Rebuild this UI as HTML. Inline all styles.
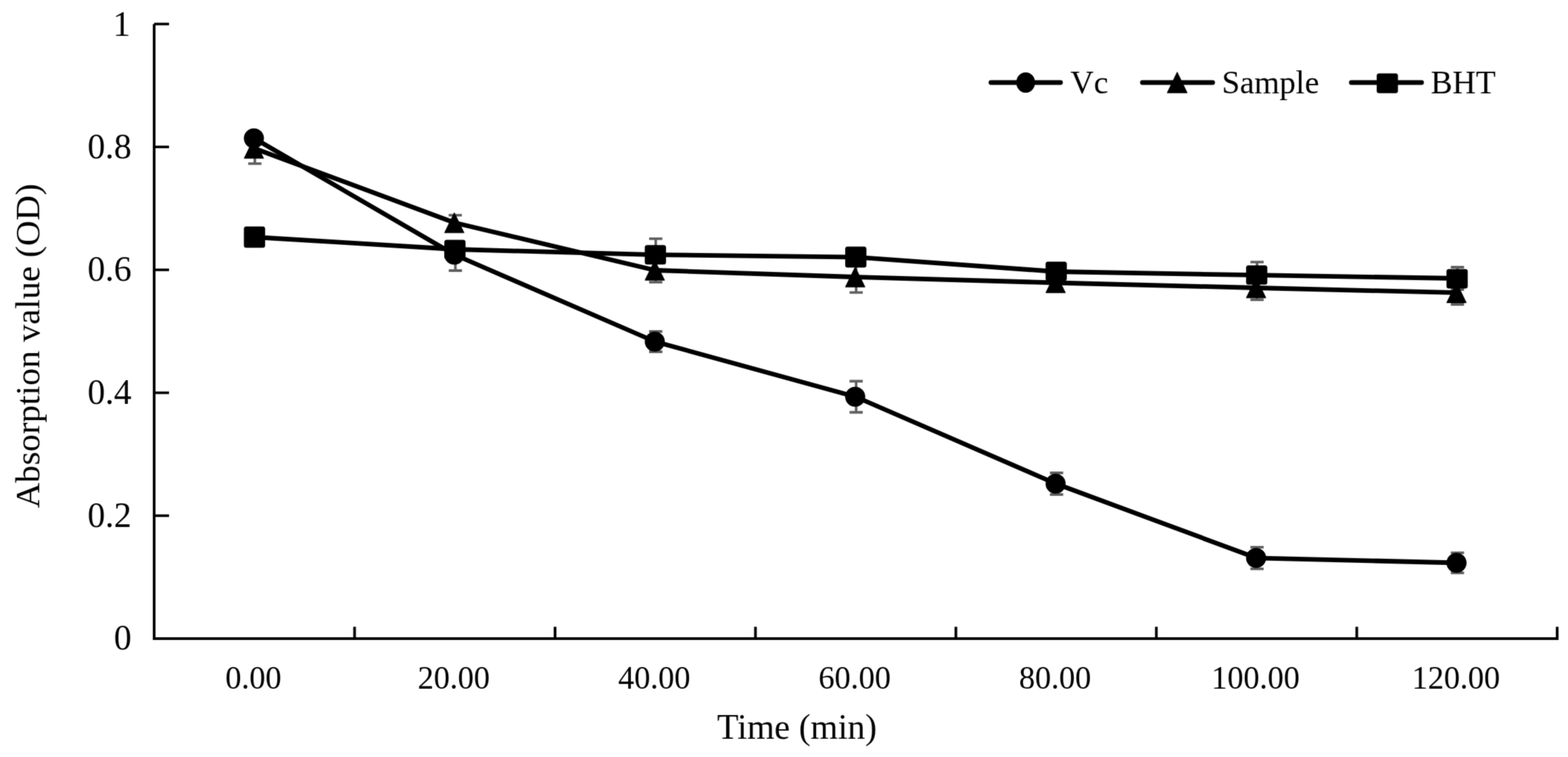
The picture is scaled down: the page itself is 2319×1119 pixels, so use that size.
<!DOCTYPE html>
<html><head><meta charset="utf-8"><title>Absorption value over time</title>
<style>
html,body{margin:0;padding:0;background:#fff;overflow:hidden;}
svg{display:block;}
text{font-family:"Liberation Serif","Times New Roman",serif;fill:#000;}
.yl{font-size:52px;}
.xl{font-size:47.5px;}
.lg{font-size:48px;}
.tt{font-size:52px;}
.ty{font-size:51.7px;}
</style></head>
<body>
<svg width="2319" height="1119" viewBox="0 0 2319 1119">
<defs><filter id="soft" x="0" y="0" width="2319" height="1119" filterUnits="userSpaceOnUse" color-interpolation-filters="sRGB"><feConvolveMatrix order="3" kernelMatrix="1 4 1 4 16 4 1 4 1" divisor="36" edgeMode="duplicate"/></filter></defs>
<rect width="2319" height="1119" fill="#fff"/>
<g filter="url(#soft)">
<rect width="2319" height="1119" fill="#fff"/>
<path d="M228 35.5V946M226 944H2305" stroke="#000" stroke-width="4" fill="none"/>
<text x="194.5" y="960.3" text-anchor="end" class="yl">0</text>
<path d="M228 762.3H250" stroke="#000" stroke-width="3.8"/>
<text x="194.5" y="778.6" text-anchor="end" class="yl">0.2</text>
<path d="M228 580.6H250" stroke="#000" stroke-width="3.8"/>
<text x="194.5" y="596.9" text-anchor="end" class="yl">0.4</text>
<path d="M228 398.9H250" stroke="#000" stroke-width="3.8"/>
<text x="194.5" y="415.2" text-anchor="end" class="yl">0.6</text>
<path d="M228 217.2H250" stroke="#000" stroke-width="3.8"/>
<text x="194.5" y="233.5" text-anchor="end" class="yl">0.8</text>
<path d="M228 35.5H250" stroke="#000" stroke-width="3.8"/>
<text x="193.0" y="52.8" text-anchor="end" class="yl">1</text>
<path d="M524.4 926.5V944" stroke="#000" stroke-width="4"/>
<path d="M820.9 926.5V944" stroke="#000" stroke-width="4"/>
<path d="M1117.3 926.5V944" stroke="#000" stroke-width="4"/>
<path d="M1413.7 926.5V944" stroke="#000" stroke-width="4"/>
<path d="M1710.2 926.5V944" stroke="#000" stroke-width="4"/>
<path d="M2006.6 926.5V944" stroke="#000" stroke-width="4"/>
<path d="M2303.0 926.5V944" stroke="#000" stroke-width="4"/>
<text x="374.7" y="1017.5" text-anchor="middle" class="xl">0.00</text>
<text x="671.1" y="1017.5" text-anchor="middle" class="xl">20.00</text>
<text x="967.6" y="1017.5" text-anchor="middle" class="xl">40.00</text>
<text x="1264.0" y="1017.5" text-anchor="middle" class="xl">60.00</text>
<text x="1560.4" y="1017.5" text-anchor="middle" class="xl">80.00</text>
<text x="1856.9" y="1017.5" text-anchor="middle" class="xl">100.00</text>
<text x="2153.3" y="1017.5" text-anchor="middle" class="xl">120.00</text>
<path d="M376.9 196.5V212.5M367.1 196.5h19.6M367.1 212.5h19.6" stroke="#606060" stroke-width="3.8" fill="none"/>
<path d="M673.5 358.0V400.0M663.7 358.0h19.6M663.7 400.0h19.6" stroke="#606060" stroke-width="3.8" fill="none"/>
<path d="M969.8 490.0V520.0M960.0 490.0h19.6M960.0 520.0h19.6" stroke="#606060" stroke-width="3.8" fill="none"/>
<path d="M1266.2 563.5V609.5M1256.4 563.5h19.6M1256.4 609.5h19.6" stroke="#606060" stroke-width="3.8" fill="none"/>
<path d="M1562.6 699.0V731.0M1552.8 699.0h19.6M1552.8 731.0h19.6" stroke="#606060" stroke-width="3.8" fill="none"/>
<path d="M1859.1 808.8V840.8M1849.3 808.8h19.6M1849.3 840.8h19.6" stroke="#606060" stroke-width="3.8" fill="none"/>
<path d="M2155.5 817.2V846.8M2145.7 817.2h19.6M2145.7 846.8h19.6" stroke="#606060" stroke-width="3.8" fill="none"/>
<path d="M376.9 196.7V241.9M367.1 196.7h19.6M367.1 241.9h19.6" stroke="#606060" stroke-width="3.8" fill="none"/>
<path d="M673.3 318.2V340.4M663.5 318.2h19.6M663.5 340.4h19.6" stroke="#606060" stroke-width="3.8" fill="none"/>
<path d="M969.8 381.8V417.2M960.0 381.8h19.6M960.0 417.2h19.6" stroke="#606060" stroke-width="3.8" fill="none"/>
<path d="M1266.2 386.6V432.4M1256.4 386.6h19.6M1256.4 432.4h19.6" stroke="#606060" stroke-width="3.8" fill="none"/>
<path d="M1562.6 406.0V430.0M1552.8 406.0h19.6M1552.8 430.0h19.6" stroke="#606060" stroke-width="3.8" fill="none"/>
<path d="M1859.1 407.8V443.2M1849.3 407.8h19.6M1849.3 443.2h19.6" stroke="#606060" stroke-width="3.8" fill="none"/>
<path d="M2155.5 415.4V450.0M2145.7 415.4h19.6M2145.7 450.0h19.6" stroke="#606060" stroke-width="3.8" fill="none"/>
<path d="M376.9 342.5V358.5M367.1 342.5h19.6M367.1 358.5h19.6" stroke="#606060" stroke-width="3.8" fill="none"/>
<path d="M673.3 360.5V376.5M663.5 360.5h19.6M663.5 376.5h19.6" stroke="#606060" stroke-width="3.8" fill="none"/>
<path d="M969.8 352.9V400.3M960.0 352.9h19.6M960.0 400.3h19.6" stroke="#606060" stroke-width="3.8" fill="none"/>
<path d="M1266.2 370.1V390.1M1256.4 370.1h19.6M1256.4 390.1h19.6" stroke="#606060" stroke-width="3.8" fill="none"/>
<path d="M1562.6 391.5V411.5M1552.8 391.5h19.6M1552.8 411.5h19.6" stroke="#606060" stroke-width="3.8" fill="none"/>
<path d="M1859.1 387.3V426.1M1849.3 387.3h19.6M1849.3 426.1h19.6" stroke="#606060" stroke-width="3.8" fill="none"/>
<path d="M2155.5 395.0V428.0M2145.7 395.0h19.6M2145.7 428.0h19.6" stroke="#606060" stroke-width="3.8" fill="none"/>
<polyline points="375.9,204.5 672.3,376.5 968.8,505.0 1265.2,586.5 1561.6,715.0 1858.1,824.8 2154.5,832.0" fill="none" stroke="#000" stroke-width="6.8" stroke-linejoin="round" stroke-linecap="round"/>
<polyline points="375.9,219.3 672.3,329.3 968.8,399.5 1265.2,409.5 1561.6,418.0 1858.1,425.5 2154.5,432.7" fill="none" stroke="#000" stroke-width="6.8" stroke-linejoin="round" stroke-linecap="round"/>
<polyline points="375.9,350.5 672.3,368.5 968.8,376.6 1265.2,380.1 1561.6,401.5 1858.1,406.7 2154.5,411.5" fill="none" stroke="#000" stroke-width="6.8" stroke-linejoin="round" stroke-linecap="round"/>
<g fill="#000">
<rect x="360.7" y="334.8" width="31.4" height="31.4" rx="3.5"/>
<rect x="657.1" y="354.4" width="31.4" height="28.8" rx="3.5"/>
<rect x="953.6" y="362.3" width="31.4" height="28.6" rx="3.5"/>
<rect x="1250.0" y="364.6" width="31.4" height="31.0" rx="3.5"/>
<rect x="1546.4" y="386.7" width="31.4" height="28.6" rx="3.5"/>
<rect x="1842.9" y="392.2" width="31.4" height="28.6" rx="3.5"/>
<rect x="2139.3" y="397.8" width="31.4" height="28.6" rx="3.5"/>
<polygon points="375.5,204.7 389.7,233.9 361.3,233.9" stroke="#000" stroke-width="1.2" stroke-linejoin="round"/>
<polygon points="671.9,314.7 686.1,343.9 657.7,343.9" stroke="#000" stroke-width="1.2" stroke-linejoin="round"/>
<polygon points="968.4,384.9 982.6,414.1 954.2,414.1" stroke="#000" stroke-width="1.2" stroke-linejoin="round"/>
<polygon points="1264.8,394.9 1279.0,424.1 1250.6,424.1" stroke="#000" stroke-width="1.2" stroke-linejoin="round"/>
<polygon points="1561.2,403.4 1575.4,432.6 1547.0,432.6" stroke="#000" stroke-width="1.2" stroke-linejoin="round"/>
<polygon points="1857.7,410.9 1871.9,440.1 1843.5,440.1" stroke="#000" stroke-width="1.2" stroke-linejoin="round"/>
<polygon points="2154.1,418.1 2168.3,447.3 2139.9,447.3" stroke="#000" stroke-width="1.2" stroke-linejoin="round"/>
<ellipse cx="375.5" cy="204.5" rx="14.85" ry="14.85"/>
<ellipse cx="671.9" cy="376.5" rx="14.85" ry="14.85"/>
<ellipse cx="968.4" cy="505.0" rx="14.85" ry="14.85"/>
<ellipse cx="1264.8" cy="586.5" rx="14.85" ry="14.85"/>
<ellipse cx="1561.2" cy="715.0" rx="14.85" ry="14.85"/>
<ellipse cx="1857.7" cy="824.8" rx="14.85" ry="14.85"/>
<ellipse cx="2154.1" cy="832.0" rx="14.85" ry="14.85"/>
</g>
<g fill="#000">
<path d="M1465.5 122H1568.5" stroke="#000" stroke-width="6.8" stroke-linecap="round"/>
<ellipse cx="1516.9" cy="122.0" rx="13.90" ry="15.10"/>
<path d="M1689.5 122H1793.5" stroke="#000" stroke-width="6.8" stroke-linecap="round"/>
<polygon points="1741.0,106.9 1755.5,137.1 1726.5,137.1" stroke="#000" stroke-width="1.2" stroke-linejoin="round"/>
<path d="M1998.5 122H2102.5" stroke="#000" stroke-width="6.8" stroke-linecap="round"/>
<rect x="2036.1" y="108.5" width="31.4" height="29.2" rx="3.5"/>
</g>
<text x="1583" y="137.5" class="lg">Vc</text>
<text x="1807" y="137.5" class="lg">Sample</text>
<text x="2116" y="138" class="lg">BHT</text>
<text x="1060.5" y="1092" class="tt">Time (min)</text>
<text transform="translate(57.5,751) rotate(-90)" class="ty">Absorption value (OD)</text>
</g>
</svg>
</body></html>
